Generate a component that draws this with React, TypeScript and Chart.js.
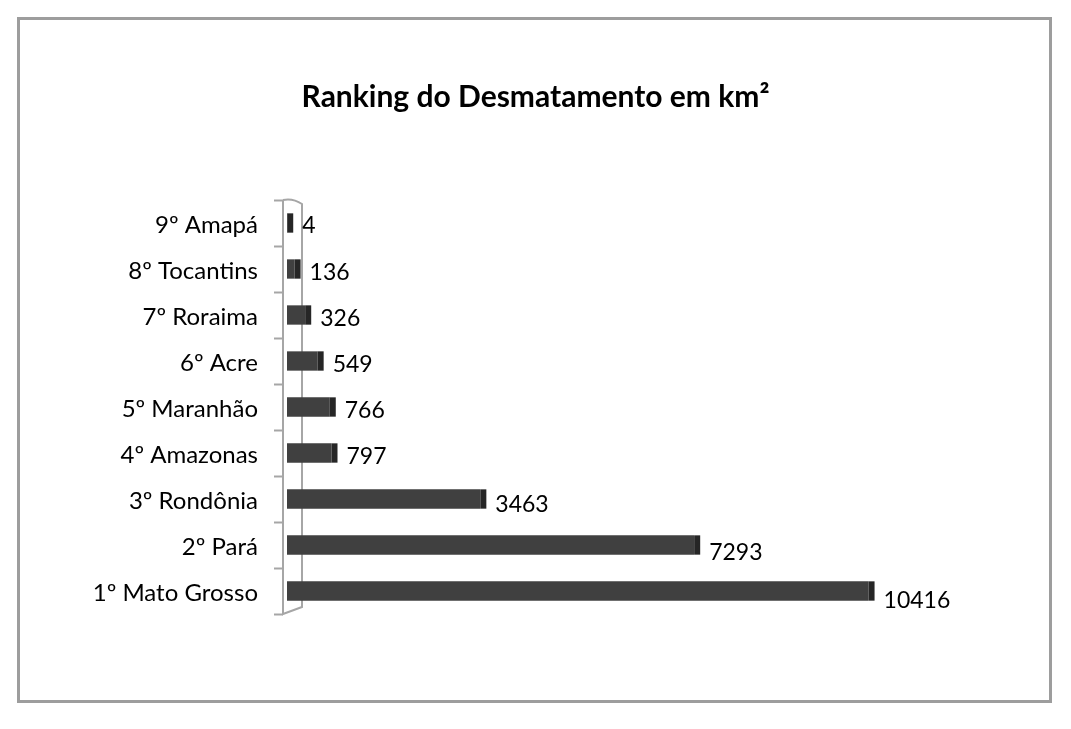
import { useEffect, useRef } from "react";
import { Chart, registerables, Plugin } from "chart.js";

Chart.register(...registerables);

const TITLE = "Ranking do Desmatamento em km²";
const RANKS = [
  "1º Mato Grosso",
  "2º Pará",
  "3º Rondônia",
  "4º Amazonas",
  "5º Maranhão",
  "6º Acre",
  "7º Roraima",
  "8º Tocantins",
  "9º Amapá",
];
const AREA_KM2 = [10416, 7293, 3463, 797, 766, 549, 326, 136, 4];
const X_MAX = 12000;

const FONT = "Lato, 'Open Sans', sans-serif";

// title centred on the whole canvas (the plot is padded on the right)
const titlePlugin: Plugin = {
  id: "pageTitle",
  afterDraw(chart) {
    const { ctx, width } = chart;
    ctx.save();
    ctx.fillStyle = "#000";
    ctx.font = `bold 30px ${FONT}`;
    ctx.textAlign = "center";
    ctx.textBaseline = "alphabetic";
    ctx.fillText(TITLE, width / 2, 107);
    ctx.restore();
  },
};

// 3D-ish wall on the left, tick marks between categories
const wallPlugin: Plugin = {
  id: "wall",
  beforeDatasetsDraw(chart) {
    const { ctx, chartArea } = chart;
    const { left, top, bottom } = chartArea;
    const y = chart.scales.y;
    const n = RANKS.length;
    const step = (bottom - top) / n;
    ctx.save();
    ctx.strokeStyle = "#a6a6a6";
    ctx.lineWidth = 2;
    ctx.beginPath();
    ctx.moveTo(left - 4, top);
    ctx.lineTo(left - 4, bottom);
    ctx.lineTo(left + 15, bottom - 7);
    ctx.lineTo(left + 15, top + 4);
    ctx.quadraticCurveTo(left + 6, top - 2, left - 4, top);
    ctx.stroke();
    for (let i = 0; i <= n; i++) {
      const ty = i < n ? y.getPixelForValue(i) + step / 2 : top;
      ctx.beginPath();
      ctx.moveTo(left - 13, Math.round(ty) + 0.5);
      ctx.lineTo(left - 4, Math.round(ty) + 0.5);
      ctx.stroke();
    }
    ctx.restore();
  },
};

// bar end face + value labels
const endFacePlugin: Plugin = {
  id: "endFace",
  afterDatasetsDraw(chart) {
    const { ctx, chartArea } = chart;
    const meta = chart.getDatasetMeta(0);
    ctx.save();
    meta.data.forEach((bar: any, i: number) => {
      const h = bar.height;
      ctx.fillStyle = "#262626";
      ctx.fillRect(bar.x, bar.y - h / 2, 6, h);
      ctx.fillStyle = "#000";
      ctx.font = `23px ${FONT}`;
      ctx.textAlign = "left";
      ctx.textBaseline = "middle";
      // labels drift down a little with bar length, like the perspective original
      const drop = 3 + (bar.x - chartArea.left) * 0.012;
      ctx.fillText(String(AREA_KM2[i]), bar.x + 15, bar.y + drop);
    });
    ctx.restore();
  },
};

export default function App() {
  const canvasRef = useRef<HTMLCanvasElement>(null);
  const chartRef = useRef<Chart | null>(null);

  useEffect(() => {
    if (!canvasRef.current) return;
    chartRef.current = new Chart(canvasRef.current, {
      type: "bar",
      data: {
        labels: RANKS,
        datasets: [
          {
            data: AREA_KM2,
            backgroundColor: "#404040",
            borderWidth: 0,
            barPercentage: 0.42,
            categoryPercentage: 1,
          },
        ],
      },
      options: {
        indexAxis: "y",
        animation: false,
        responsive: true,
        maintainAspectRatio: false,
        layout: { padding: { top: 200, right: 114, bottom: 115, left: 0 } },
        plugins: {
          legend: { display: false },
          tooltip: { enabled: false },
          title: { display: false },
        },
        scales: {
          x: { display: false, min: 0, max: X_MAX },
          y: {
            reverse: true,
            grid: { display: false, drawTicks: false },
            border: { display: false },
            ticks: {
              color: "#000",
              padding: 29,
              labelOffset: 2,
              font: { family: FONT, size: 24 },
            },
            afterFit: (scale: any) => {
              scale.width = 287;
            },
          },
        },
      },
      plugins: [wallPlugin, endFacePlugin, titlePlugin],
    });
    return () => {
      chartRef.current?.destroy();
      chartRef.current = null;
    };
  }, []);

  return (
    <div style={{ position: "absolute", left: 0, top: 0, width: 1071, height: 729, background: "#fff" }}>
      <div
        style={{
          position: "absolute",
          left: 17,
          top: 17,
          width: 1035,
          height: 686,
          border: "3px solid #9d9d9d",
          boxSizing: "border-box",
        }}
      />
      <div style={{ position: "absolute", left: 0, top: 0, width: 1071, height: 729 }}>
        <canvas ref={canvasRef} />
      </div>
    </div>
  );
}
